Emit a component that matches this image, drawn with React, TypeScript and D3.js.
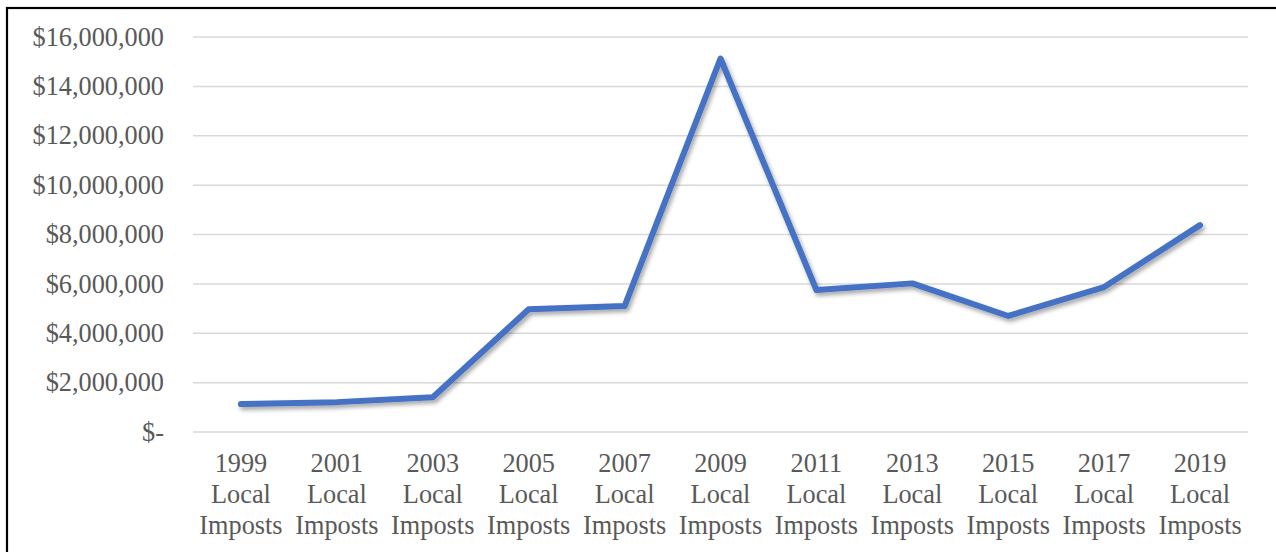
import React from "react";
import * as d3 from "d3";

const categories: string[] = [
  "1999", "2001", "2003", "2005", "2007", "2009",
  "2011", "2013", "2015", "2017", "2019",
];
const values: number[] = [
  1130000, 1210000, 1410000, 4970000, 5100000, 15130000,
  5750000, 6020000, 4700000, 5870000, 8380000,
];
const yTicks: number[] = [0, 2000000, 4000000, 6000000, 8000000, 10000000, 12000000, 14000000, 16000000];
const labelLines: string[] = ["Local", "Imposts"];

const W = 1276;
const H = 552;
const plot = { left: 193, right: 1248, top: 37, bottom: 432 };
const FONT = "'Liberation Serif', 'Times New Roman', serif";
const TEXT = "#595959";
const FS = 26.3;

function fmt(v: number): string {
  if (v === 0) return "$-";
  return "$" + d3.format(",")(v);
}

export default function App() {
  const x = d3
    .scaleBand<string>()
    .domain(categories)
    .range([plot.left, plot.right])
    .padding(0);
  const y = d3.scaleLinear().domain([0, 16000000]).range([plot.bottom, plot.top]);
  const line = d3
    .line<number>()
    .x((_, i) => (x(categories[i]) as number) + x.bandwidth() / 2)
    .y((d) => y(d));

  return (
    <svg
      width={W}
      height={H}
      style={{ position: "absolute", left: 0, top: 0, background: "#fff" }}
      fontFamily={FONT}
    >
      <defs>
        <filter id="shadow" x="-10%" y="-10%" width="120%" height="130%">
          <feDropShadow dx="2" dy="3" stdDeviation="2" floodColor="#000" floodOpacity="0.35" />
        </filter>
      </defs>
      <rect x={7} y={8} width={W + 20} height={H + 20} fill="#fff" stroke="#000" strokeWidth={2.2} />
      {yTicks.map((t) => (
        <g key={t}>
          <line
            x1={plot.left}
            x2={plot.right}
            y1={y(t)}
            y2={y(t)}
            stroke="#d9d9d9"
            strokeWidth={1.5}
          />
          <text
            x={164}
            y={y(t)}
            dy="0.33em"
            textAnchor="end"
            fontSize={FS}
            fill={TEXT}
          >
            {fmt(t)}
          </text>
        </g>
      ))}
      {categories.map((c) => {
        const cx = (x(c) as number) + x.bandwidth() / 2;
        return (
          <text key={c} x={cx} textAnchor="middle" fontSize={FS} fill={TEXT}>
            <tspan x={cx} y={472}>{c}</tspan>
            {labelLines.map((l, i) => (
              <tspan key={l} x={cx} y={503 + i * 31}>{l}</tspan>
            ))}
          </text>
        );
      })}
      <path
        d={line(values) as string}
        fill="none"
        stroke="#4472C4"
        strokeWidth={6}
        strokeLinecap="round"
        strokeLinejoin="round"
        filter="url(#shadow)"
      />
    </svg>
  );
}
